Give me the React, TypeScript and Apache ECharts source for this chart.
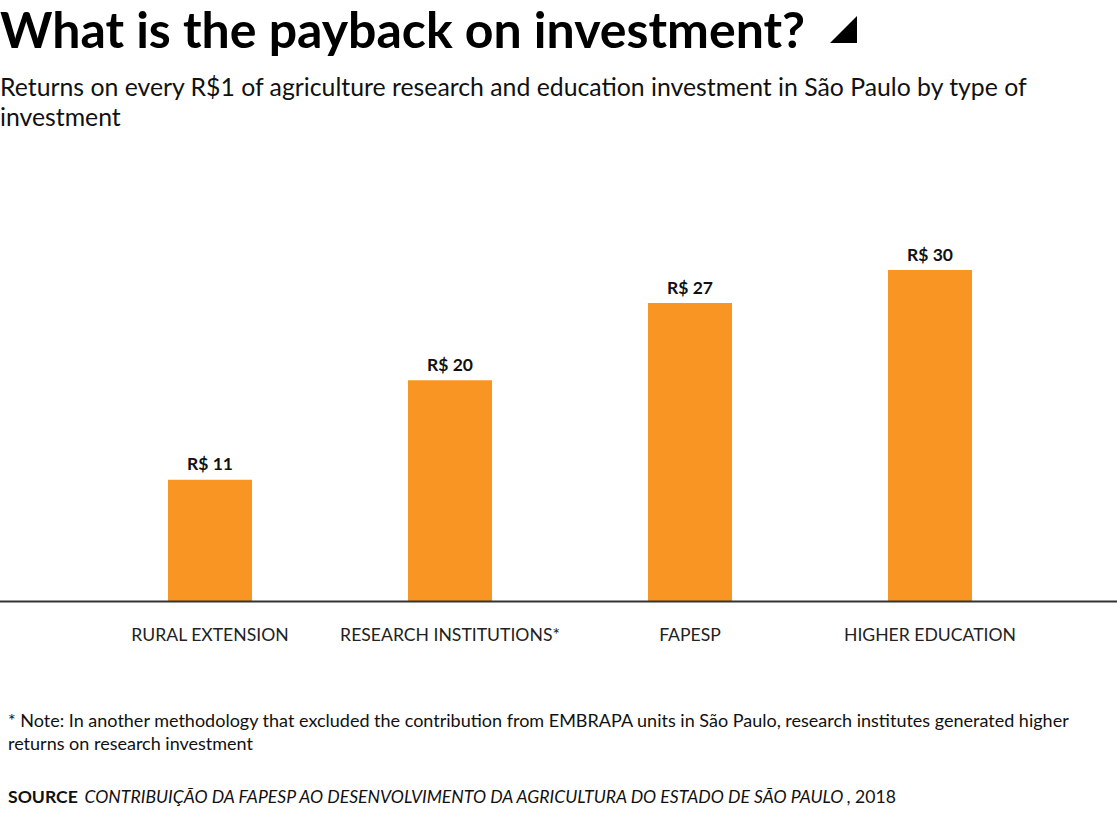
import React, { useEffect, useRef } from "react";
import * as echarts from "echarts";

const categories = ["RURAL EXTENSION", "RESEARCH INSTITUTIONS*", "FAPESP", "HIGHER EDUCATION"];
const values = [11, 20, 27, 30];
const valuePrefix = "R$ ";

const titleText = "What is the payback on investment?";
const subtitleLines = [
  "Returns on every R$1 of agriculture research and education investment in São Paulo by type of",
  "investment",
];
const noteLines = [
  "* Note: In another methodology that excluded the contribution from EMBRAPA units in São Paulo, research institutes generated higher",
  "returns on research investment",
];
const sourceLabel = "SOURCE";
const sourceText = "CONTRIBUIÇÃO DA FAPESP AO DESENVOLVIMENTO DA AGRICULTURA DO ESTADO DE SÃO PAULO";
const sourceYear = ", 2018";

const FONT = "Lato, 'Noto Sans', sans-serif";

export default function App() {
  const ref = useRef<HTMLDivElement>(null);
  useEffect(() => {
    if (!ref.current) return;
    const chart = echarts.init(ref.current, null, { renderer: "svg" });
    chart.setOption({
      animation: false,
      backgroundColor: "#ffffff",
      textStyle: { fontFamily: FONT },
      grid: { left: 90, right: 67, top: 270, bottom: 216, containLabel: false },
      xAxis: {
        type: "category",
        data: categories,
        axisLine: { show: false },
        axisTick: { show: false },
        axisLabel: { color: "#222", fontSize: 17.6, fontFamily: FONT, margin: 24, interval: 0 },
      },
      yAxis: {
        type: "value",
        min: 0,
        max: 30,
        show: false,
        splitLine: { show: false },
      },
      series: [
        {
          type: "bar",
          data: values,
          barWidth: 84,
          itemStyle: { color: "#f99623" },
          label: {
            show: true,
            position: "top",
            distance: 7,
            color: "#111",
            fontSize: 17.5,
            fontWeight: "bold",
            fontFamily: FONT,
            formatter: (p: any) => valuePrefix + p.value,
          },
        },
      ],
      graphic: [
        {
          type: "line",
          shape: { x1: 0, y1: 601.5, x2: 1117, y2: 601.5 },
          style: { stroke: "#333", lineWidth: 2 },
          z: 10,
        },
        {
          type: "text",
          x: 0,
          y: 29,
          style: {
            text: titleText,
            font: `bold 50px ${FONT}`,
            fill: "#000",
            textVerticalAlign: "middle",
          },
        },
        {
          type: "polygon",
          shape: { points: [[857, 16], [857, 43], [830, 43]] },
          style: { fill: "#000" },
        },
        {
          type: "text",
          x: 0,
          y: 86,
          style: {
            text: subtitleLines[0],
            font: `24.8px ${FONT}`,
            fill: "#111",
            textVerticalAlign: "middle",
          },
        },
        {
          type: "text",
          x: 0,
          y: 116,
          style: {
            text: subtitleLines[1],
            font: `24.8px ${FONT}`,
            fill: "#111",
            textVerticalAlign: "middle",
          },
        },
        {
          type: "text",
          x: 8,
          y: 720,
          style: {
            text: noteLines[0],
            font: `18px ${FONT}`,
            fill: "#111",
            textVerticalAlign: "middle",
          },
        },
        {
          type: "text",
          x: 8,
          y: 743,
          style: {
            text: noteLines[1],
            font: `18px ${FONT}`,
            fill: "#111",
            textVerticalAlign: "middle",
          },
        },
        {
          type: "text",
          x: 8,
          y: 796,
          style: {
            text: `{b|${sourceLabel}}  {i|${sourceText}}{n|${sourceYear}}`,
            fill: "#111",
            textVerticalAlign: "middle",
            rich: {
              b: { fontWeight: "bold", fontSize: 17.6, fontFamily: FONT, fill: "#111" },
              i: { fontStyle: "italic", fontSize: 17.6, fontFamily: FONT, fill: "#111" },
              n: { fontSize: 17.6, fontFamily: FONT, fill: "#111" },
            },
          },
        },
      ],
    });
    return () => chart.dispose();
  }, []);
  return (
    <div
      ref={ref}
      style={{ position: "fixed", left: 0, top: 0, width: 1117, height: 817, background: "#fff" }}
    />
  );
}
